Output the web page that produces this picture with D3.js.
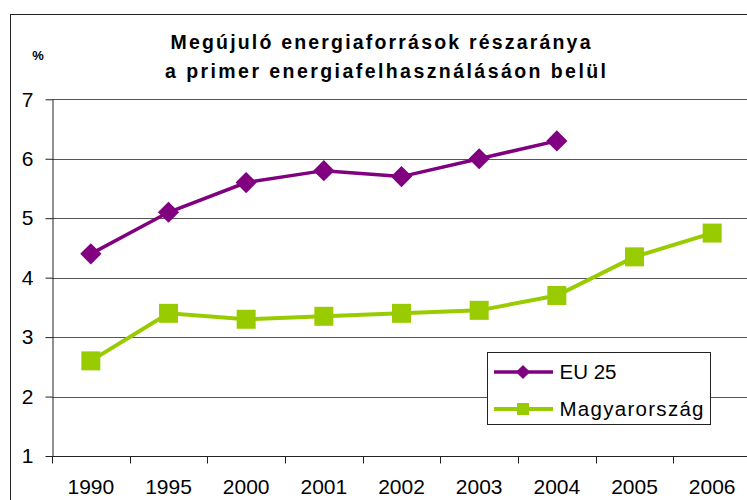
<!DOCTYPE html>
<html>
<head>
<meta charset="utf-8">
<script src="https://cdnjs.cloudflare.com/ajax/libs/d3/7.8.5/d3.min.js"></script>
<style>
  body { margin: 0; background: #fff; }
  svg { display: block; font-family: "Liberation Sans", Arial, sans-serif; }
</style>
</head>
<body>
<div id="chart"></div>
<script>
// adatok
var years = ["1990", "1995", "2000", "2001", "2002", "2003", "2004", "2005", "2006"];
var eu25 = [4.4, 5.1, 5.6, 5.8, 5.7, 6.0, 6.3, null, null];
var magyar = [2.6, 3.4, 3.3, 3.35, 3.4, 3.45, 3.7, 4.35, 4.75];
var yTicks = [1, 2, 3, 4, 5, 6, 7];
var titleLines = ["Megújuló energiaforrások részaránya", "a primer energiafelhasználásáon belül"];

var width = 747, height = 500;
var svg = d3.select("#chart").append("svg")
    .attr("width", width)
    .attr("height", height);

// keret
svg.append("rect")
    .attr("x", 10.5).attr("y", 14.5)
    .attr("width", 800).attr("height", 600)
    .attr("fill", "none")
    .attr("stroke", "#222");

var x = d3.scaleBand().domain(years).range([52, 751]);
var y = d3.scaleLinear().domain([1, 7]).range([456, 99.3]);

// rácsvonalak
svg.selectAll(".grid")
    .data(yTicks.filter(d => d > 1))
    .enter().append("line")
        .attr("x1", 52).attr("x2", 751)
        .attr("y1", d => Math.round(y(d)) + 0.5)
        .attr("y2", d => Math.round(y(d)) + 0.5)
        .attr("stroke", "#555");

// y tengely
var yAxis = svg.append("g")
    .attr("transform", "translate(52.5,0)")
    .call(d3.axisLeft(y).tickValues(yTicks).tickSize(7).tickSizeOuter(0).tickFormat(d3.format("d")));
yAxis.select(".domain").attr("stroke", "#222");
yAxis.selectAll(".tick line").attr("stroke", "#222");
yAxis.selectAll(".tick text")
    .attr("x", -19)
    .attr("font-size", 21)
    .attr("font-family", "Liberation Sans, Arial, sans-serif")
    .attr("fill", "#000");

// x tengely
var xAxisG = svg.append("g").attr("transform", "translate(0,456.5)");
xAxisG.append("line")
    .attr("x1", 52).attr("x2", 751)
    .attr("stroke", "#222");
xAxisG.selectAll(".xtick")
    .data(years)
    .enter().append("line")
        .attr("x1", d => Math.round(x(d)) + 0.5)
        .attr("x2", d => Math.round(x(d)) + 0.5)
        .attr("y1", 0).attr("y2", 7)
        .attr("stroke", "#222");
xAxisG.selectAll(".xlabel")
    .data(years)
    .enter().append("text")
        .attr("x", d => x(d) + x.bandwidth() / 2)
        .attr("y", 37)
        .attr("text-anchor", "middle")
        .attr("font-size", 21)
        .text(d => d);

var cx = d => x(d) + x.bandwidth() / 2;

// Magyarország vonal
var hunPts = years.map((d, i) => [d, magyar[i]]).filter(p => p[1] != null);
svg.append("path")
    .datum(hunPts)
    .attr("fill", "none")
    .attr("stroke", "#99CC00")
    .attr("stroke-width", 4)
    .attr("d", d3.line().x(p => cx(p[0])).y(p => y(p[1])));
svg.selectAll(".sq")
    .data(hunPts)
    .enter().append("rect")
        .attr("x", p => cx(p[0]) - 9.5)
        .attr("y", p => y(p[1]) - 9.5)
        .attr("width", 19).attr("height", 19)
        .attr("fill", "#99CC00");

// EU 25 vonal
var euPts = years.map((d, i) => [d, eu25[i]]).filter(p => p[1] != null);
svg.append("path")
    .datum(euPts)
    .attr("fill", "none")
    .attr("stroke", "#800080")
    .attr("stroke-width", 3.5)
    .attr("d", d3.line().x(p => cx(p[0])).y(p => y(p[1])));
var diamond = d3.symbol().type(d3.symbolSquare).size(225);
svg.selectAll(".dm")
    .data(euPts)
    .enter().append("path")
        .attr("d", diamond)
        .attr("transform", p => "translate(" + cx(p[0]) + "," + y(p[1]) + ") rotate(45)")
        .attr("fill", "#800080");

// cím
svg.selectAll(".title")
    .data(titleLines)
    .enter().append("text")
        .attr("x", (d, i) => i === 0 ? 170.5 : 165)
        .attr("y", (d, i) => 48.5 + i * 29)
        .attr("font-size", 19.5)
        .attr("font-weight", "bold")
        .attr("textLength", (d, i) => i === 0 ? 420 : 441)
        .attr("lengthAdjust", "spacing")
        .text(d => d);

svg.append("text")
    .attr("x", 38).attr("y", 60)
    .attr("text-anchor", "middle")
    .attr("font-size", 13)
    .attr("font-weight", "bold")
    .text("%");

// jelmagyarázat
var legend = svg.append("g");
legend.append("rect")
    .attr("x", 487.5).attr("y", 352.5)
    .attr("width", 223).attr("height", 72)
    .attr("fill", "#fff")
    .attr("stroke", "#222");

var legendItems = [
    { name: "EU 25", color: "#800080", marker: "diamond", w: 3.5 },
    { name: "Magyarország", color: "#99CC00", marker: "square", w: 4 }
];
legendItems.forEach(function(item, i) {
    var ly = 372 + i * 37;
    legend.append("line")
        .attr("x1", 494).attr("x2", 553)
        .attr("y1", ly).attr("y2", ly)
        .attr("stroke", item.color)
        .attr("stroke-width", item.w);
    if (item.marker === "diamond") {
        legend.append("path")
            .attr("d", d3.symbol().type(d3.symbolSquare).size(100))
            .attr("transform", "translate(523," + ly + ") rotate(45)")
            .attr("fill", item.color);
    } else {
        legend.append("rect")
            .attr("x", 517).attr("y", ly - 6)
            .attr("width", 12).attr("height", 12)
            .attr("fill", item.color);
    }
    legend.append("text")
        .attr("x", 559.5)
        .attr("y", ly + 7)
        .attr("font-size", 20.5)
        .attr("textLength", i === 0 ? 57 : 144)
        .attr("lengthAdjust", "spacing")
        .text(item.name);
});
</script>
</body>
</html>
